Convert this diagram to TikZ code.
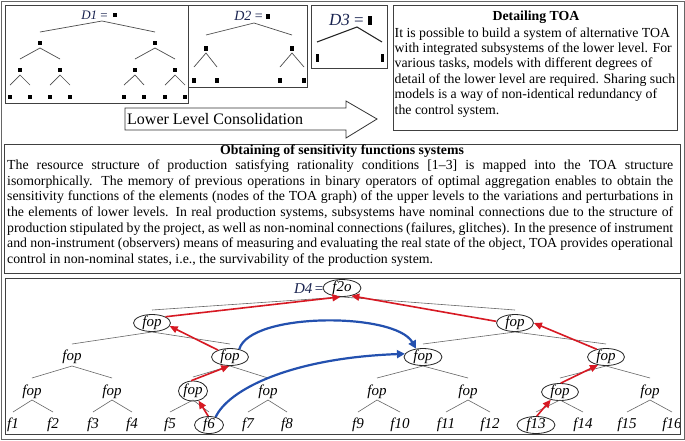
\documentclass[tikz,border=0pt]{standalone}
\usepackage{fontspec}
\setmainfont{Liberation Serif}
\usetikzlibrary{arrows.meta,calc,shapes.geometric}
\definecolor{redA}{RGB}{215,25,35}
\definecolor{blueA}{RGB}{35,80,175}
\definecolor{navyA}{RGB}{25,35,80}
\newcommand\forkdraw[5]{\draw[tbr] ($(#2)+(0,-#5)$) -- ($(#1)+(0,#4)$) -- ($(#3)+(0,-#5)$);}
\begin{document}
\begin{tikzpicture}[x=1pt,y=-1pt,
  frame/.style={draw=black!75,line width=1pt},
  sq/.style={fill=black,inner sep=0,minimum width=3.2pt,minimum height=4.2pt},
  msq/.style={fill=black,inner sep=0,minimum width=3.4pt,minimum height=5pt},
  bigsq/.style={fill=black,inner sep=0,minimum width=3pt,minimum height=8pt},
  br/.style={draw=black!70,line width=0.7pt},
  tbr/.style={draw=black!60,line width=0.6pt},
  dlab/.style={font=\fontsize{13}{13}\selectfont, text=navyA, inner sep=0},
  lab/.style={font=\fontsize{15}{15}\selectfont\itshape, inner sep=0, text height=9pt, text depth=3pt},
  ell/.style={lab, draw=black!85, line width=0.8pt, ellipse, minimum width=37pt, minimum height=17pt},
  redarr/.style={draw=redA, line width=1.6pt, -{Triangle[length=8pt,width=7pt]}},
  bluearr/.style={draw=blueA, line width=2.2pt, -{Triangle[length=8pt,width=8pt]}},
  body/.style={font=\fontsize{13.8}{15.5}\selectfont, inner sep=0, anchor=base west},
  btitle/.style={font=\fontsize{13.8}{15.5}\selectfont\bfseries, inner sep=0, anchor=base},
]
\useasboundingbox (0,0) rectangle (685,440);
\fill[white] (0,0) rectangle (685,440);
\draw[draw=black!60,line width=0.8pt] (1,1) rectangle (684,439);

% ---------- D1 ----------
\draw[frame] (5,5) rectangle (188,103);
\node[dlab,anchor=base east] (d1lab) at (108,19.5) {\itshape D1\upshape\ =};
\node[sq] (a0) at (115,15) {};
\coordinate (a0c) at (102,21);
\node[sq] (a1) at (40,43) {};
\node[sq] (a2) at (155,43) {};
\node[sq] (a3) at (20,70) {};
\node[sq] (a4) at (60,70) {};
\node[sq] (a5) at (135,70) {};
\node[sq] (a6) at (175,70) {};
\foreach \n/\x in {b1/10,b2/30,b3/50,b4/70,b5/124,b6/144,b7/165,b8/185}
  \node[sq] (\n) at (\x,97) {};
\draw[br] ($(a1)+(0,-11)$) -- (a0c) -- ($(a2)+(0,-11)$);
\draw[br] ($(a3)+(0,-11)$) -- ($(a1)+(0,5)$) -- ($(a4)+(0,-11)$);
\draw[br] ($(a5)+(0,-11)$) -- ($(a2)+(0,5)$) -- ($(a6)+(0,-11)$);
\draw[br] ($(b1)+(0,-12)$) -- ($(a3)+(0,5)$) -- ($(b2)+(0,-12)$);
\draw[br] ($(b3)+(0,-12)$) -- ($(a4)+(0,5)$) -- ($(b4)+(0,-12)$);
\draw[br] ($(b5)+(0,-12)$) -- ($(a5)+(0,5)$) -- ($(b6)+(0,-12)$);
\draw[br] ($(b7)+(0,-12)$) -- ($(a6)+(0,5)$) -- ($(b8)+(0,-12)$);

% ---------- D2 ----------
\draw[frame] (188,5) rectangle (307,87);
\node[dlab,anchor=base east,font=\fontsize{14}{14}\selectfont] (d2lab) at (263,20.5) {\itshape D2\upshape\ =};
\node[msq] (c0) at (268,16) {};
\coordinate (c0c) at (254,23);
\node[msq] (c1) at (206,48) {};
\node[msq] (c2) at (292,48) {};
\foreach \n/\x in {e1/194,e2/217,e3/280,e4/304}
  \node[msq] (\n) at (\x,80) {};
\draw[br] ($(c1)+(0,-13)$) -- (c0c) -- ($(c2)+(0,-13)$);
\draw[br] ($(e1)+(0,-13)$) -- ($(c1)+(0,5)$) -- ($(e2)+(0,-13)$);
\draw[br] ($(e3)+(0,-13)$) -- ($(c2)+(0,5)$) -- ($(e4)+(0,-13)$);

% ---------- D3 ----------
\draw[frame] (311,5) rectangle (387,68);
\node[dlab,anchor=base east,font=\fontsize{17}{17}\selectfont] (d3lab) at (364,25) {\itshape D3\upshape\ =};
\node[bigsq,minimum width=3.8pt,minimum height=9pt] (g0) at (370,20) {};
\coordinate (g0c) at (357,27);
\node[bigsq] (g1) at (317,58) {};
\node[bigsq] (g2) at (382,58) {};
\draw[draw=black!85,line width=1.1pt] ($(g1)+(0,-16)$) -- (g0c) -- ($(g2)+(0,-16)$);

% ---------- Detailing TOA ----------
\draw[frame] (393,5) rectangle (677,130);
\node[btitle] (dt) at (536,20.5) {Detailing TOA};
\node[body] (dl1) at (394.5,37) {It is possible to build a system of alternative TOA};
\node[body] (dl2) at (394.5,52.4) {with integrated subsystems of the lower level. For};
\node[body] (dl3) at (394.5,67.8) {various tasks, models with different degrees of};
\node[body] (dl4) at (394.5,83.2) {detail of the lower level are required. Sharing such};
\node[body] (dl5) at (394.5,98.6) {models is a way of non-identical redundancy of};
\node[body] (dl6) at (394.5,114) {the control system.};

% ---------- Arrow ----------
\draw[draw=black!80,line width=0.8pt,fill=white] (125,108) -- (346,108) -- (346,101) -- (377,119) -- (346,138) -- (346,130) -- (125,130) -- cycle;
\node[inner sep=0,anchor=base west,font=\fontsize{16}{16}\selectfont] (llc) at (127,124.5) {Lower Level Consolidation};

% ---------- Middle text box ----------
\draw[frame] (4,144) rectangle (680,273);
\node[btitle] (mt) at (342,154.5) {Obtaining of sensitivity functions systems};
\node[body] (m1) at (7,169.5) {\hbox to 666pt{The resource structure of production satisfying rationality conditions [1\textendash3] is mapped into the TOA structure}};
\node[body] (m2) at (7,185.2) {\hbox to 666pt{isomorphically. The memory of previous operations in binary operators of optimal aggregation enables to obtain the}};
\node[body] (m3) at (7,200.8) {\hbox to 666pt{sensitivity functions of the elements (nodes of the TOA graph) of the upper levels to the variations and perturbations in}};
\node[body] (m4) at (7,216.5) {\hbox to 666pt{the elements of lower levels. In real production systems, subsystems have nominal connections due to the structure of}};
\node[body] (m5) at (7,232.2) {\hbox to 666pt{production stipulated by the project, as well as non-nominal connections (failures, glitches). In the presence of instrument}};
\node[body] (m6) at (7,247.8) {\hbox to 666pt{and non-instrument (observers) means of measuring and evaluating the real state of the object, TOA provides operational}};
\node[body] (m7) at (7,263.5) {control in non-nominal states, i.e., the survivability of the production system.};

% ---------- Bottom tree ----------
\begin{scope}
\clip (5,278) rectangle (680,434);
\node[ell,minimum width=38pt] (root) at (342,288) {f2o};
\node[inner sep=0,anchor=east,font=\fontsize{15}{15}\selectfont,text=navyA] (d4) at (323.5,288.5) {\itshape D4\upshape\,=};
\node[ell] (l1a) at (152,323) {fop};
\node[ell] (l1b) at (515,323) {fop};
\node[lab] (l2a) at (72,357) {fop};
\node[ell] (l2b) at (230,357) {fop};
\node[ell,minimum width=38pt] (l2c) at (423,357) {fop};
\node[ell] (l2d) at (606,357) {fop};
\node[lab] (l3a) at (32,392) {fop};
\node[lab] (l3b) at (112,392) {fop};
\node[ell,minimum width=29pt,minimum height=20pt] (l3c) at (193,391) {fop};
\node[lab] (l3d) at (268,392) {fop};
\node[lab] (l3e) at (377,392) {fop};
\node[lab] (l3f) at (468,392) {fop};
\node[ell] (l3g) at (560,392) {fop};
\node[lab] (l3h) at (650,392) {fop};
\foreach \n/\x in {1/13,2/53,3/93,4/132,5/170,7/248,8/287,9/358,10/400,11/446,12/490,14/583,15/627,16/672}
  \node[lab] (f\n) at (\x,425) {f\n};
\node[ell,minimum width=29pt] (f6) at (209,425) {f6};
\node[ell,minimum width=38pt] (f13) at (536,425) {f13};

\forkdraw{root}{l1a}{l1b}{9}{13}
\forkdraw{l1a}{l2a}{l2b}{9}{13}
\forkdraw{l1b}{l2c}{l2d}{9}{13}
\forkdraw{l2a}{l3a}{l3b}{9}{14}
\forkdraw{l2b}{l3c}{l3d}{9}{14}
\forkdraw{l2c}{l3e}{l3f}{9}{14}
\forkdraw{l2d}{l3g}{l3h}{9}{14}
\forkdraw{l3a}{f1}{f2}{8}{13}
\forkdraw{l3b}{f3}{f4}{8}{13}
\forkdraw{l3c}{f5}{f6}{9}{13}
\forkdraw{l3d}{f7}{f8}{8}{13}
\forkdraw{l3e}{f9}{f10}{8}{13}
\forkdraw{l3f}{f11}{f12}{8}{13}
\forkdraw{l3g}{f13}{f14}{8}{13}
\forkdraw{l3h}{f15}{f16}{8}{13}

% red paths
\draw[redarr] (f6.95) -- (l3c.-60);
\draw[redarr] (l3c.100) -- (l2b.-95);
\draw[redarr] (l2b.150) -- (l1a.-10);
\draw[redarr] (l1a.25) -- (root.-100);
\draw[redarr] (f13.85) -- (l3g.-140);
\draw[redarr] (l3g.85) -- (l2d.-135);
\draw[redarr] (l2d.140) -- (l1b.east);
\draw[redarr] (l1b.175) -- (root.-40);

% blue curves
\draw[bluearr] (l2b.40) .. controls (250,312) and (395,312) .. (l2c.130);
\draw[bluearr] (f6.50) .. controls (228,390) and (290,358) .. (l2c.170);
\end{scope}
\draw[frame] (5,278) rectangle (680,434);
\end{tikzpicture}
\end{document}
